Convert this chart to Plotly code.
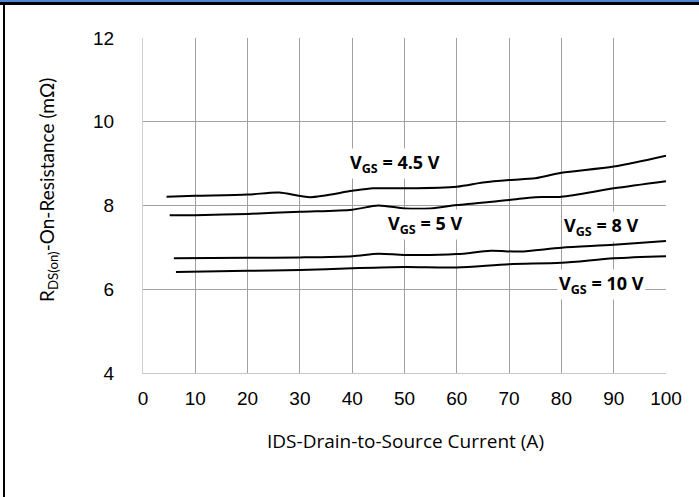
import plotly.graph_objects as go

# ---- data ----
x_45 = [4.5, 10, 20, 26, 32, 40, 44, 50, 60, 65, 70, 75, 80, 90, 100]
r_45 = [8.21, 8.23, 8.26, 8.31, 8.20, 8.35, 8.41, 8.41, 8.45, 8.55, 8.61, 8.65, 8.78, 8.93, 9.19]

x_5 = [5.1, 10, 20, 30, 40, 45, 50, 55, 60, 70, 75, 80, 90, 100]
r_5 = [7.77, 7.77, 7.80, 7.85, 7.90, 8.00, 7.93, 7.93, 8.01, 8.13, 8.20, 8.21, 8.41, 8.58]

x_8 = [5.9, 20, 30, 40, 45, 50, 60, 66.5, 72, 80, 90, 100]
r_8 = [6.74, 6.75, 6.76, 6.79, 6.85, 6.82, 6.84, 6.92, 6.90, 6.99, 7.06, 7.15]

x_10 = [6.3, 20, 30, 40, 50, 60, 70, 80, 90, 100]
r_10 = [6.41, 6.44, 6.46, 6.50, 6.53, 6.52, 6.60, 6.63, 6.74, 6.79]

x_ticks = [0, 10, 20, 30, 40, 50, 60, 70, 80, 90, 100]
y_ticks = [4, 6, 8, 10, 12]

labels = ["V<sub>GS</sub> = 4.5 V", "V<sub>GS</sub> = 5 V", "V<sub>GS</sub> = 8 V", "V<sub>GS</sub> = 10 V"]

# ---- layout geometry (pixels) ----
W, H = 699, 497
L, R, T, B = 143, 666, 38, 373


def px(x):
    return (x - L) / (R - L)


def py(y):
    return (B - y) / (B - T)


fig = go.Figure()
for xs, ys in [(x_45, r_45), (x_5, r_5), (x_8, r_8), (x_10, r_10)]:
    fig.add_trace(go.Scatter(x=xs, y=ys, mode="lines",
                             line=dict(color="black", width=2, shape="spline", smoothing=0.8),
                             showlegend=False, hoverinfo="skip"))

grid = "#a0a0a0"
fig.update_layout(
    width=W, height=H,
    margin=dict(l=L, r=W - R, t=T, b=H - B, pad=0),
    paper_bgcolor="white", plot_bgcolor="white",
    font=dict(family="Liberation Sans, Arial", color="black"),
    xaxis=dict(range=[0, 100], tickvals=x_ticks, ticktext=[str(v) for v in x_ticks],
               showgrid=True, gridcolor=grid, gridwidth=1, zeroline=False,
               showline=True, linecolor="#c8c8c8", linewidth=1, mirror=False,
               ticks="", tickfont=dict(size=19, family="Liberation Sans, Arial"),
               ticklabelstandoff=8),
    yaxis=dict(range=[4, 12], tickvals=y_ticks, ticktext=[str(v) for v in y_ticks],
               showgrid=True, gridcolor=grid, gridwidth=1, zeroline=False,
               showline=True, linecolor="#d0d0d0", linewidth=1,
               ticks="", tickfont=dict(size=19, family="Liberation Sans, Arial"),
               ticklabelstandoff=24),
)

# axis titles
fig.add_annotation(text="IDS-Drain-to-Source Current (A)", xref="paper", yref="paper",
                   x=px(405), y=py(441), xanchor="center", yanchor="middle", showarrow=False,
                   font=dict(family="Open Sans", size=19, color="black"))
fig.add_annotation(text="R<sub>DS(on)</sub>-On-Resistance (mΩ)", xref="paper", yref="paper",
                   x=px(48), y=py(190), xanchor="center", yanchor="middle",
                   showarrow=False, textangle=-90,
                   font=dict(family="Lato, Open Sans", size=19, color="black"))

# curve labels
label_pos = [(395, 163), (425, 224), (601, 227), (601, 284)]
for txt, (lx, ly) in zip(labels, label_pos):
    fig.add_annotation(text="<b>" + txt + "</b>", xref="paper", yref="paper",
                       x=px(lx), y=py(ly), xanchor="center", yanchor="middle",
                       showarrow=False, bgcolor="white", borderpad=1,
                       font=dict(family="Open Sans", size=18, color="black"))

# frame: blue top band, black top and left lines
fig.add_shape(type="rect", xref="paper", yref="paper", x0=px(0), x1=px(W), y0=py(0), y1=py(2),
              fillcolor="#4f87d0", line=dict(width=0), layer="above")
fig.add_shape(type="rect", xref="paper", yref="paper", x0=px(0), x1=px(W), y0=py(2), y1=py(5),
              fillcolor="black", line=dict(width=0), layer="above")
fig.add_shape(type="rect", xref="paper", yref="paper", x0=px(3), x1=px(5), y0=py(2), y1=py(H),
              fillcolor="black", line=dict(width=0), layer="above")

fig.write_html("out.html", config={"displayModeBar": False},
               post_script="document.body.style.margin='0';document.body.style.overflow='hidden';")
